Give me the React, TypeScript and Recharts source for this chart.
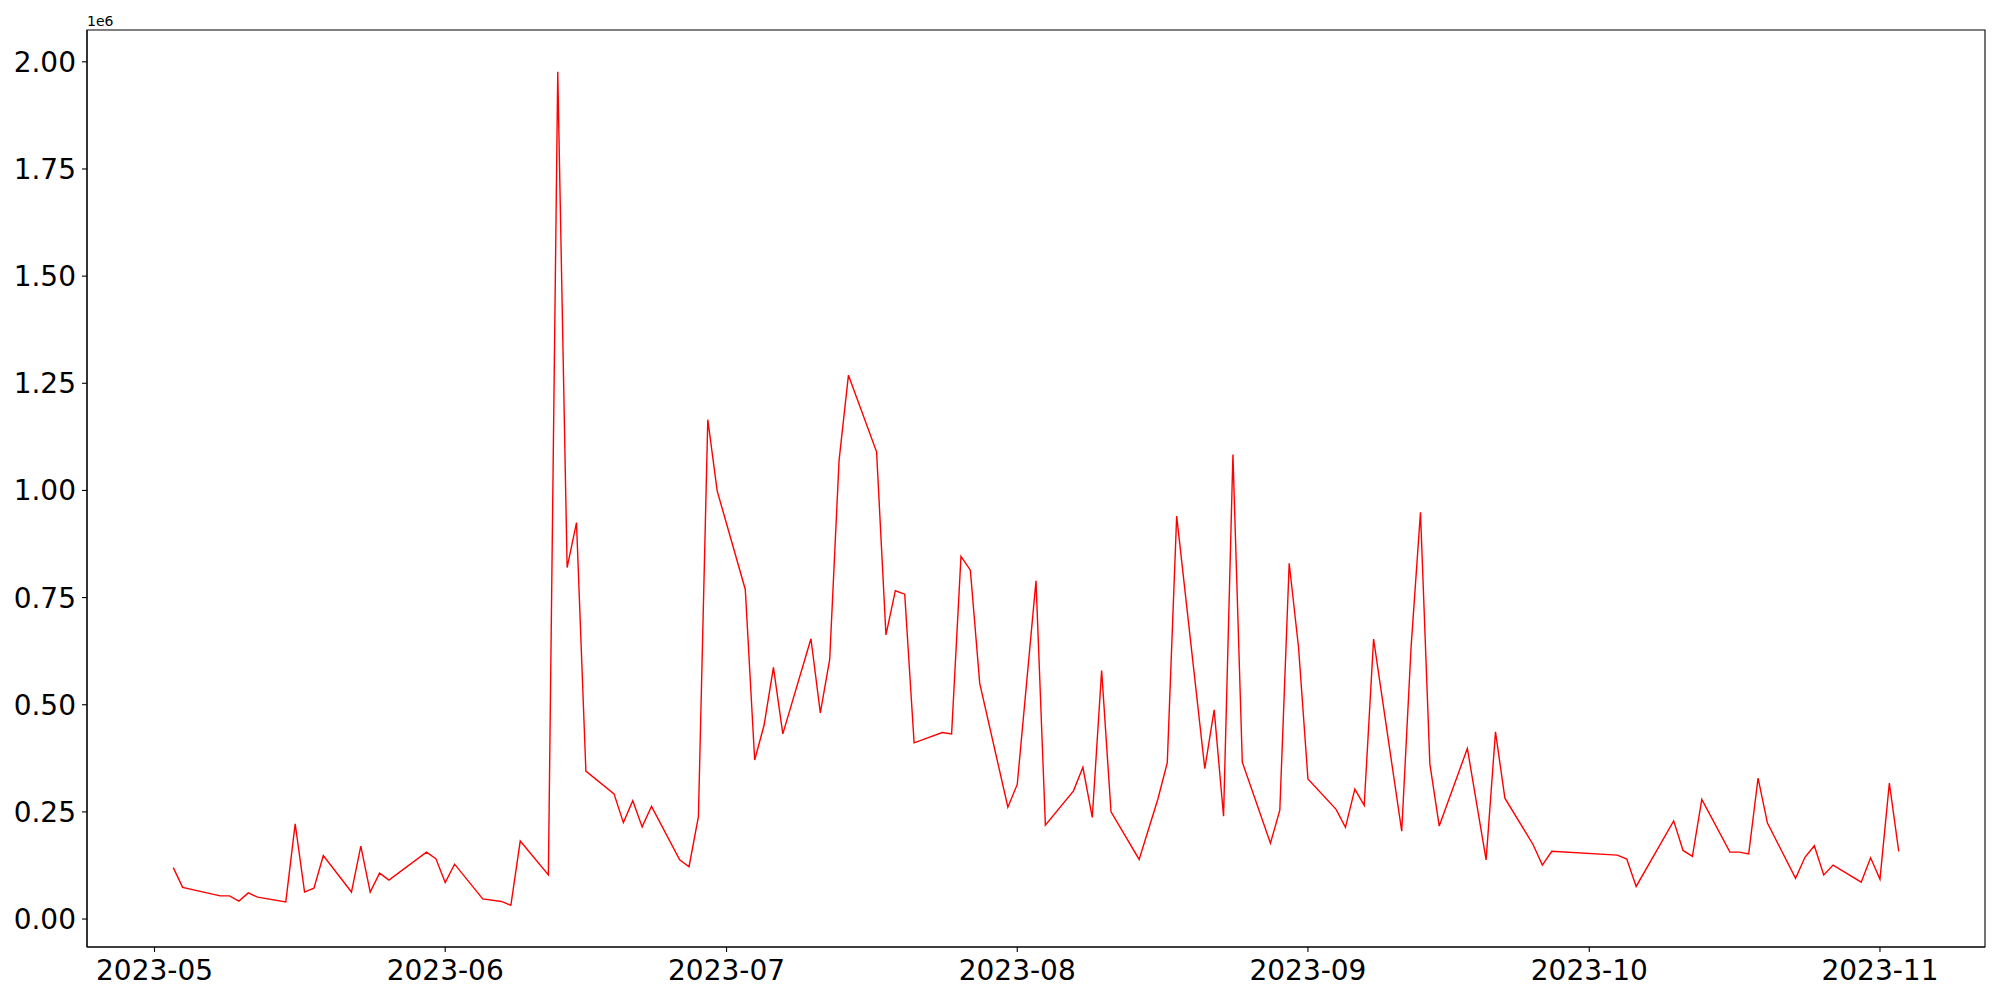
import { LineChart, Line, XAxis, YAxis, ReferenceArea } from "recharts"

// trading days, 2023
const dates = [
  "2023-05-03", "2023-05-04", "2023-05-08", "2023-05-09", "2023-05-10", "2023-05-11", "2023-05-12",
  "2023-05-15", "2023-05-16", "2023-05-17", "2023-05-18", "2023-05-19",
  "2023-05-22", "2023-05-23", "2023-05-24", "2023-05-25", "2023-05-26",
  "2023-05-30", "2023-05-31", "2023-06-01", "2023-06-02",
  "2023-06-05", "2023-06-07", "2023-06-08", "2023-06-09",
  "2023-06-12", "2023-06-13", "2023-06-14", "2023-06-15", "2023-06-16",
  "2023-06-19", "2023-06-20", "2023-06-21", "2023-06-22", "2023-06-23",
  "2023-06-26", "2023-06-27", "2023-06-28", "2023-06-29", "2023-06-30",
  "2023-07-03", "2023-07-04", "2023-07-05", "2023-07-06", "2023-07-07",
  "2023-07-10", "2023-07-11", "2023-07-12", "2023-07-13", "2023-07-14",
  "2023-07-17", "2023-07-18", "2023-07-19", "2023-07-20", "2023-07-21",
  "2023-07-24", "2023-07-25", "2023-07-26", "2023-07-27", "2023-07-28",
  "2023-07-31", "2023-08-01", "2023-08-03", "2023-08-04",
  "2023-08-07", "2023-08-08", "2023-08-09", "2023-08-10", "2023-08-11",
  "2023-08-14", "2023-08-16", "2023-08-17", "2023-08-18",
  "2023-08-21", "2023-08-22", "2023-08-23", "2023-08-24", "2023-08-25",
  "2023-08-28", "2023-08-29", "2023-08-30", "2023-08-31", "2023-09-01",
  "2023-09-04", "2023-09-05", "2023-09-06", "2023-09-07", "2023-09-08",
  "2023-09-11", "2023-09-12", "2023-09-13", "2023-09-14", "2023-09-15",
  "2023-09-18", "2023-09-20", "2023-09-21", "2023-09-22",
  "2023-09-25", "2023-09-26", "2023-09-27",
  "2023-10-04", "2023-10-05", "2023-10-06",
  "2023-10-10", "2023-10-11", "2023-10-12", "2023-10-13",
  "2023-10-16", "2023-10-17", "2023-10-18", "2023-10-19", "2023-10-20",
  "2023-10-23", "2023-10-24", "2023-10-25", "2023-10-26", "2023-10-27",
  "2023-10-30", "2023-10-31", "2023-11-01", "2023-11-02", "2023-11-03",
]

const values = [
  120000, 74000, 54000, 54000, 42000, 61000, 51000,
  40000, 222000, 63000, 72000, 148000,
  63000, 170000, 63000, 107000, 91000,
  156000, 141000, 85000, 128000,
  47000, 41000, 32000, 182000,
  103000, 1977000, 820000, 925000, 345000,
  292000, 225000, 276000, 215000, 263000,
  138000, 122000, 239000, 1165000, 999000,
  769000, 371000, 452000, 587000, 432000,
  654000, 481000, 606000, 1070000, 1269000,
  1090000, 663000, 766000, 758000, 411000,
  435000, 432000, 846000, 814000, 550000,
  261000, 314000, 789000, 219000,
  299000, 354000, 237000, 580000, 250000,
  139000, 280000, 365000, 940000,
  351000, 488000, 240000, 1084000, 366000,
  177000, 254000, 830000, 633000, 327000,
  256000, 214000, 303000, 265000, 653000,
  205000, 635000, 949000, 362000, 217000,
  398000, 138000, 437000, 282000,
  174000, 126000, 158000,
  149000, 140000, 76000,
  229000, 160000, 146000, 279000,
  156000, 156000, 152000, 329000, 224000,
  95000, 144000, 171000, 103000, 126000,
  86000, 143000, 93000, 317000, 158000,
]

const monthTicks = ["2023-05", "2023-06", "2023-07", "2023-08", "2023-09", "2023-10", "2023-11"]
const yTicks = [0, 250000, 500000, 750000, 1000000, 1250000, 1500000, 1750000, 2000000]

const toMs = (s: string) => new Date(s.length === 7 ? s + "-01T00:00:00Z" : s + "T00:00:00Z").getTime()

const data = dates.map((d, i) => ({ t: toMs(d), v: values[i] }))

// matplotlib style 5% margins
const pad = (lo: number, hi: number) => [lo - (hi - lo) * 0.05, hi + (hi - lo) * 0.05]
const [xMin, xMax] = pad(data[0].t, data[data.length - 1].t)
const [yMin, yMax] = pad(Math.min(...values), Math.max(...values))

const font = "DejaVu Sans"
const tickStyle = { fill: "#000", fontSize: 28, fontFamily: font }

const fmtMonth = (ms: number) => {
  const d = new Date(ms)
  return `${d.getUTCFullYear()}-${String(d.getUTCMonth() + 1).padStart(2, "0")}`
}

export default function App() {
  return (
    <div style={{ position: "absolute", left: 0, top: 0, width: 2000, height: 1000, background: "#fff" }}>
      <div
        style={{
          position: "absolute",
          left: 87,
          top: 14,
          fontFamily: font,
          fontSize: 14,
          lineHeight: "14px",
          color: "#000",
        }}
      >
        1e6
      </div>
      <LineChart width={2000} height={1000} data={data} margin={{ top: 30, right: 15, bottom: 0, left: 0 }}>
        <XAxis
          dataKey="t"
          type="number"
          scale="linear"
          domain={[xMin, xMax]}
          allowDataOverflow
          ticks={monthTicks.map(toMs)}
          tickFormatter={fmtMonth}
          height={53}
          tick={tickStyle}
          tickSize={5}
          tickMargin={8}
          tickLine={{ stroke: "#000", strokeWidth: 1.1 }}
          axisLine={{ stroke: "#000", strokeWidth: 1.1 }}
        />
        <YAxis
          type="number"
          domain={[yMin, yMax]}
          allowDataOverflow
          ticks={yTicks}
          tickFormatter={(v: number) => (v / 1e6).toFixed(2)}
          width={87}
          tick={tickStyle}
          tickSize={5}
          tickMargin={6}
          tickLine={{ stroke: "#000", strokeWidth: 1.1 }}
          axisLine={{ stroke: "#000", strokeWidth: 1.1 }}
        />
        <ReferenceArea x1={xMin} x2={xMax} y1={yMin} y2={yMax} fill="none" stroke="#000" strokeWidth={1.1} />
        <Line
          type="linear"
          dataKey="v"
          stroke="#ff0000"
          strokeWidth={1.4}
          dot={false}
          isAnimationActive={false}
        />
      </LineChart>
    </div>
  )
}
